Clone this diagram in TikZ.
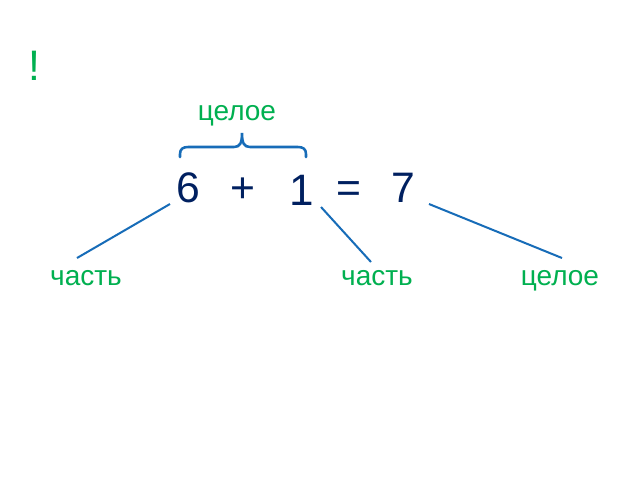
\documentclass[tikz,border=0pt]{standalone}
\usepackage{fontspec}
\setmainfont{Liberation Sans}
\definecolor{grn}{RGB}{0,176,80}
\definecolor{navy}{RGB}{0,32,96}
\definecolor{lineblue}{RGB}{23,108,184}
\begin{document}
\begin{tikzpicture}[x=0.75pt,y=-0.75pt,
  lbl/.style={text=grn,font=\fontsize{21}{25}\selectfont,anchor=base,inner sep=0pt},
  num/.style={text=navy,font=\fontsize{32}{38}\selectfont,anchor=base,inner sep=0pt},
  conn/.style={draw=lineblue,line width=1.5pt}]
\useasboundingbox[fill=white] (0,0) rectangle (640,480);
\node[lbl,font=\fontsize{32}{38}\selectfont] (excl) at (34,80) {!};
\node[lbl] (whole1) at (237,120) {целое};
\node[num] (six) at (188,202) {6};
\node[num] (plus) at (243,202) {+};
\node[num,font=\fontsize{33}{38}\selectfont] (one) at (302,205) {1};
\node[num] (eq) at (349,202) {=};
\node[num] (seven) at (403,202) {7};
\node[lbl] (part1) at (86,285) {часть};
\node[lbl] (part2) at (377,285) {часть};
\node[lbl] (whole2) at (560,285) {целое};
\coordinate (a1) at (170,204);
\coordinate (a2) at (77,258);
\coordinate (b1) at (321,207);
\coordinate (b2) at (371,262);
\coordinate (c1) at (429,204);
\coordinate (c2) at (562,258);
\draw[conn] (a1) -- (a2);
\draw[conn] (b1) -- (b2);
\draw[conn] (c1) -- (c2);
\coordinate (brL) at (180,157);
\coordinate (brR) at (306,157);
\coordinate (brT) at (242,133);
\draw[conn,line width=1.9pt,line cap=round] (brL) -- (180,154) .. controls (180,149) and (183,147) .. (188,147)
  -- (234,147) .. controls (240,147) and (242,143) .. (brT)
  .. controls (242,143) and (244,147) .. (250,147)
  -- (298,147) .. controls (303,147) and (306,149) .. (306,154) -- (brR);
\end{tikzpicture}
\end{document}
